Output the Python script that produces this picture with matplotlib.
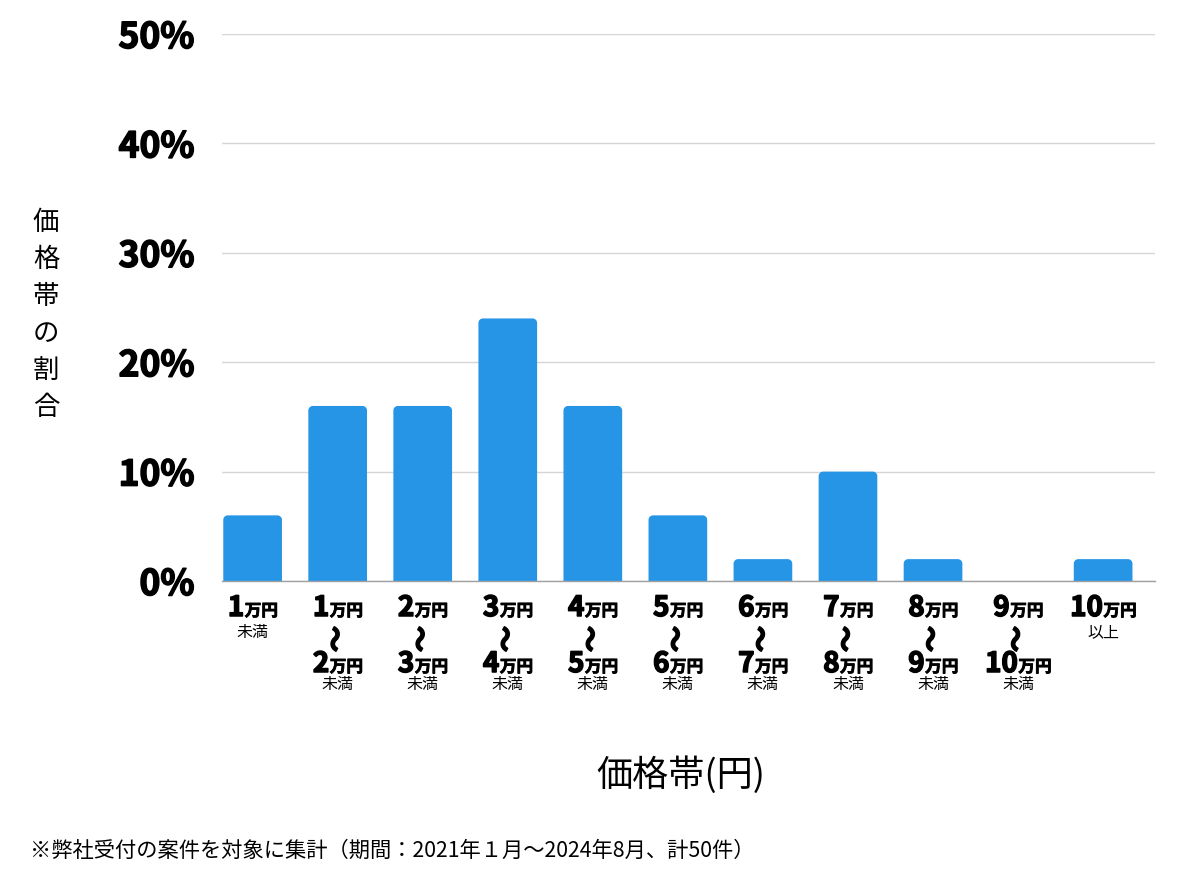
import matplotlib
matplotlib.use("Agg")
import matplotlib.pyplot as plt
from matplotlib.patches import PathPatch
from matplotlib.path import Path
import matplotlib.patheffects as pe

plt.rcParams['font.family'] = ['Noto Sans CJK JP', 'DejaVu Sans']

# ---- data ----
lower_nums = ["1", "1", "2", "3", "4", "5", "6", "7", "8", "9", "10"]
upper_nums = [None, "2", "3", "4", "5", "6", "7", "8", "9", "10", None]
suffixes = ["未満", "未満", "未満", "未満", "未満", "未満", "未満", "未満", "未満", "未満", "以上"]
shares = [6, 16, 16, 24, 16, 6, 2, 10, 2, 0, 2]
yticks = [0, 10, 20, 30, 40, 50]
ytick_labels = ["0%", "10%", "20%", "30%", "40%", "50%"]
unit = "万円"
ylabel = "価格帯の割合"
xlabel = "価格帯(円)"
footnote = "※弊社受付の案件を対象に集計（期間：2021年１月〜2024年8月、計50件）"

W, H = 1200, 874
BAR_COLOR = "#2795e6"
HEAVY = [pe.withStroke(linewidth=1.1, foreground='black')]

fig = plt.figure(figsize=(W / 100, H / 100), dpi=100)
ax = fig.add_axes([222 / W, 1 - 581 / H, (1155 - 222) / W, (581 - 34) / H])

x = list(range(len(shares)))
bar_w = 0.69
XL, XR = -0.36, 10.61
ax.set_xlim(XL, XR)
ax.set_ylim(0, 50)

bars = ax.bar(x, shares, width=bar_w, color=BAR_COLOR, zorder=3)
# rounded top corners
px_per_x = (1155 - 222) / (XR - XL)
px_per_y = (581 - 34) / 50
r_px = 4.5
rx = r_px / px_per_x
ry = r_px / px_per_y
k = 0.5523
for rect in list(bars):
    bx, by = rect.get_x(), rect.get_y()
    bw, bh = rect.get_width(), rect.get_height()
    rect.set_visible(False)
    if bh <= 0:
        continue
    top = by + bh
    verts = [
        (bx, by),
        (bx, top - ry),
        (bx, top - ry + k * ry), (bx + rx - k * rx, top), (bx + rx, top),
        (bx + bw - rx, top),
        (bx + bw - rx + k * rx, top), (bx + bw, top - ry + k * ry), (bx + bw, top - ry),
        (bx + bw, by),
        (bx, by),
    ]
    codes = [Path.MOVETO, Path.LINETO,
             Path.CURVE4, Path.CURVE4, Path.CURVE4,
             Path.LINETO,
             Path.CURVE4, Path.CURVE4, Path.CURVE4,
             Path.LINETO, Path.CLOSEPOLY]
    ax.add_patch(PathPatch(Path(verts, codes), facecolor=BAR_COLOR,
                           edgecolor='none', zorder=3))

ax.set_yticks(yticks)
ax.set_yticklabels(ytick_labels, fontsize=25.5, fontweight='bold')
for lab in ax.get_yticklabels():
    lab.set_path_effects(HEAVY)
ax.tick_params(axis='y', length=0, pad=20)
ax.set_xticks([])
ax.grid(axis='y', color='#d6d6d6', linewidth=1, zorder=0)
for s in ['top', 'right', 'left']:
    ax.spines[s].set_visible(False)
ax.spines['bottom'].set_color('#a0a0a0')
ax.spines['bottom'].set_linewidth(1)
ax.spines['bottom'].set_zorder(4)

# ---- composite x labels ----
fig.canvas.draw()
renderer = fig.canvas.get_renderer()


def fy(ypix):
    return 1 - ypix / H


def compound(cx, base_pix, num):
    t1 = fig.text(0, fy(base_pix), num, fontsize=20, fontweight='bold',
                  va='baseline', ha='left', path_effects=HEAVY)
    t2 = fig.text(0, fy(base_pix), unit, fontsize=12, fontweight='bold',
                  va='baseline', ha='left',
                  path_effects=[pe.withStroke(linewidth=0.6, foreground='black')])
    w1 = t1.get_window_extent(renderer).width
    w2 = t2.get_window_extent(renderer).width
    start = cx - (w1 + w2) / 2
    t1.set_x(start / W)
    t2.set_x((start + w1 + 0.5) / W)


for i in x:
    cx = ax.transData.transform((i, 0))[0]
    compound(cx, 616, lower_nums[i])
    if upper_nums[i] is None:
        fig.text(cx / W, fy(637), suffixes[i], fontsize=11.5,
                 ha='center', va='baseline')
    else:
        fig.text(cx / W, fy(639), "〜", fontsize=19, fontweight='bold',
                 rotation=90, ha='center', va='center', path_effects=HEAVY)
        compound(cx, 672, upper_nums[i])
        fig.text(cx / W, fy(689), suffixes[i], fontsize=11.5,
                 ha='center', va='baseline')

# axis labels
fig.text(46 / W, fy(315), "\n".join(ylabel), fontsize=19, ha='center',
         va='center', linespacing=1.48)
fig.text(681 / W, fy(775), xlabel, fontsize=26, ha='center', va='center')
fig.text(30 / W, fy(851), footnote, fontsize=15.3, ha='left', va='center')

fig.savefig("out.png", dpi=100)
